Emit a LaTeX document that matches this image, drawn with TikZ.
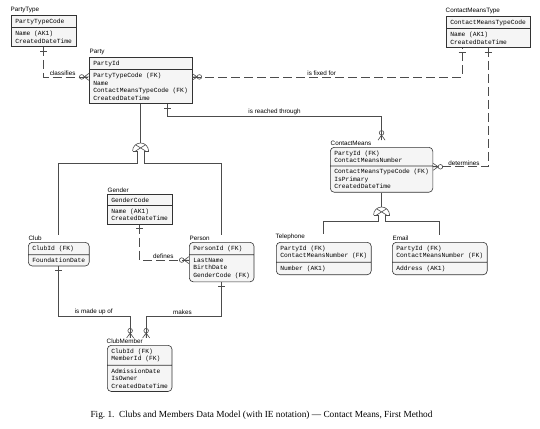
\documentclass[tikz,border=0pt]{standalone}
\usepackage{fontspec}
\setmainfont{Liberation Serif}
\newfontfamily\attrfont{Liberation Mono}
\newfontfamily\lblfont{Liberation Sans}
\usepackage{tikz}
\usetikzlibrary{shapes.multipart,positioning}

\tikzset{
  entity/.style={rectangle split, rectangle split parts=2, draw=black!80, line width=0.6pt,
    fill=black!4, font=\attrfont\fontsize{6.3}{7.5}\selectfont, align=left,
    rectangle split part align={left,left},
    inner xsep=4pt, inner ysep=3pt, anchor=north west},
  depent/.style={entity, rounded corners=4pt},
  ename/.style={font=\lblfont\fontsize{6.3}{7}\selectfont, inner sep=0.5pt},
  rel/.style={draw=black!70, line width=0.6pt},
  nonid/.style={rel, dash pattern=on 9pt off 4pt},
  rlabel/.style={font=\lblfont\fontsize{6.3}{7}\selectfont, inner sep=1pt, above},
  onebar/.pic={\draw[rel] (-3.5,-4) -- (3.5,-4);},
  zmany/.pic={\draw[rel] (-3.5,0) -- (0,-5) -- (3.5,0) (0,0) -- (0,-5);
              \draw[rel] (0,-7.3) circle (2.3);},
  category/.pic={\draw[rel] (-8,0) arc (180:0:8);
                 \draw[rel] (-8,0) -- (-3.5,0) (3.5,0) -- (8,0);
                 \draw[rel] (-5,0) -- (5,6.2) (5,0) -- (-5,6.2);}
}

\begin{document}
\begin{tikzpicture}[x=1pt,y=1pt]
\useasboundingbox (0,0) rectangle (540,-428);

\node[entity] (partytype) at (11,-15) {PartyTypeCode \nodepart{two} Name (AK1)\\ CreatedDateTime};
\node[entity] (party) at (89,-57) {PartyId \nodepart{two} PartyTypeCode (FK)\\ Name\\ ContactMeansTypeCode (FK)\\ CreatedDateTime};
\node[entity] (cmtype) at (446,-16) {ContactMeansTypeCode \nodepart{two} Name (AK1)\\ CreatedDateTime};
\node[depent] (cmeans) at (330,-147) {PartyId (FK)\\ ContactMeansNumber \nodepart{two} ContactMeansTypeCode (FK)\\ IsPrimary\\ CreatedDateTime};
\node[entity] (gender) at (107,-194) {GenderCode \nodepart{two} Name (AK1)\\ CreatedDateTime};
\node[depent] (club) at (28,-242) {ClubId (FK) \nodepart{two} FoundationDate};
\node[depent] (person) at (189,-242) {PersonId (FK) \nodepart{two} LastName\\ BirthDate\\ GenderCode (FK)};
\node[depent] (phone) at (276,-242) {PartyId (FK)\\ ContactMeansNumber (FK) \nodepart{two} Number (AK1)};
\node[depent] (email) at (392,-242) {PartyId (FK)\\ ContactMeansNumber (FK) \nodepart{two} Address (AK1)};
\node[depent] (clubmember) at (107,-345) {ClubId (FK)\\ MemberId (FK) \nodepart{two} AdmissionDate\\ IsOwner\\ CreatedDateTime};

\node[ename, above right=1pt and -1pt of partytype.north west] (partytype-lbl) {PartyType};
\node[ename, above right=1pt and 0pt of party.north west] (party-lbl) {Party};
\node[ename, above right=1pt and -1pt of cmtype.north west] (cmtype-lbl) {ContactMeansType};
\node[ename, above right=1pt and 0pt of cmeans.north west] (cmeans-lbl) {ContactMeans};
\node[ename, above right=1pt and 0pt of gender.north west] (gender-lbl) {Gender};
\node[ename, above right=1pt and 0pt of club.north west] (club-lbl) {Club};
\node[ename, above right=1pt and 0pt of person.north west] (person-lbl) {Person};
\node[ename, above right=1pt and -1pt of phone.north west] (phone-lbl) {Telephone};
\node[ename, above right=1pt and 0pt of email.north west] (email-lbl) {Email};
\node[ename, above right=1pt and -1pt of clubmember.north west] (clubmember-lbl) {ClubMember};

% relationships
\draw[nonid] (partytype.south) |- ([yshift=3.5pt]party.west) node[rlabel, pos=0.71] {classifies};
\pic at (partytype.south) {onebar};
\pic[rotate=-90] at ([yshift=3.5pt]party.west) {zmany};

\draw[nonid] ([yshift=3.5pt]party.east) -| ([xshift=-26pt]cmtype.south) node[rlabel, pos=0.24] {is fixed for};
\pic[rotate=90] at ([yshift=3.5pt]party.east) {zmany};
\pic at ([xshift=-26pt]cmtype.south) {onebar};

\draw[rel] ([xshift=27pt]party.south) -- ++(0,-12) -| (cmeans.north |- cmeans-lbl.north) node[rlabel, pos=0.25] {is reached through};
\pic at ([xshift=27pt]party.south) {onebar};
\pic[rotate=180] at (cmeans.north |- cmeans-lbl.north) {zmany};

\draw[nonid] (cmtype.south) |- ([yshift=3pt]cmeans.east) node[rlabel, pos=0.72] {determines};
\pic at (cmtype.south) {onebar};
\pic[rotate=90] at ([yshift=3pt]cmeans.east) {zmany};

\draw[nonid] (gender.south) |- ([yshift=2pt]person.west) node[rlabel, pos=0.74] {defines};
\pic at (gender.south) {onebar};
\pic[rotate=-90] at ([yshift=2pt]person.west) {zmany};

\coordinate (cmbus) at (0,-316);
\draw[rel] (club.south) |- ([xshift=-9.5pt]clubmember.north |- cmbus) node[rlabel, pos=0.745] {is made up of}
  -- ([xshift=-9.5pt]clubmember.north |- clubmember-lbl.north);
\pic at (club.south) {onebar};
\pic[rotate=180] at ([xshift=-9.5pt]clubmember.north |- clubmember-lbl.north) {zmany};

\draw[rel] (person.south) |- ([xshift=6.5pt]clubmember.north |- cmbus) node[rlabel, pos=0.76] {makes}
  -- ([xshift=6.5pt]clubmember.north |- clubmember-lbl.north);
\pic at (person.south) {onebar};
\pic[rotate=180] at ([xshift=6.5pt]clubmember.north |- clubmember-lbl.north) {zmany};

% subtypes
\coordinate (catA) at (party.south |- 0,-151);
\draw[rel] (party.south) -- ([yshift=8pt]catA);
\pic at (catA) {category};
\draw[rel] ([xshift=-3.5pt]catA) |- ([yshift=-12pt]catA -| club.north) -- (club.north |- club-lbl.north);
\draw[rel] ([xshift=3.5pt]catA) |- ([yshift=-12pt]catA -| person.north) -- (person.north |- person-lbl.north);

\coordinate (catB) at (cmeans.south |- 0,-215);
\draw[rel] (cmeans.south) -- ([yshift=8pt]catB);
\pic at (catB) {category};
\draw[rel] ([xshift=-3.5pt]catB) |- ([yshift=-6pt]catB -| phone.north) -- (phone.north |- phone-lbl.north);
\draw[rel] ([xshift=3.5pt]catB) |- ([yshift=-6pt]catB -| email.north) -- (email.north |- email-lbl.north);

\node[font=\fontsize{9.3}{11}\selectfont] (caption) at (261.5,-415) {Fig.~1.\ \ Clubs and Members Data Model (with IE notation) — Contact Means, First Method};
\end{tikzpicture}
\end{document}
